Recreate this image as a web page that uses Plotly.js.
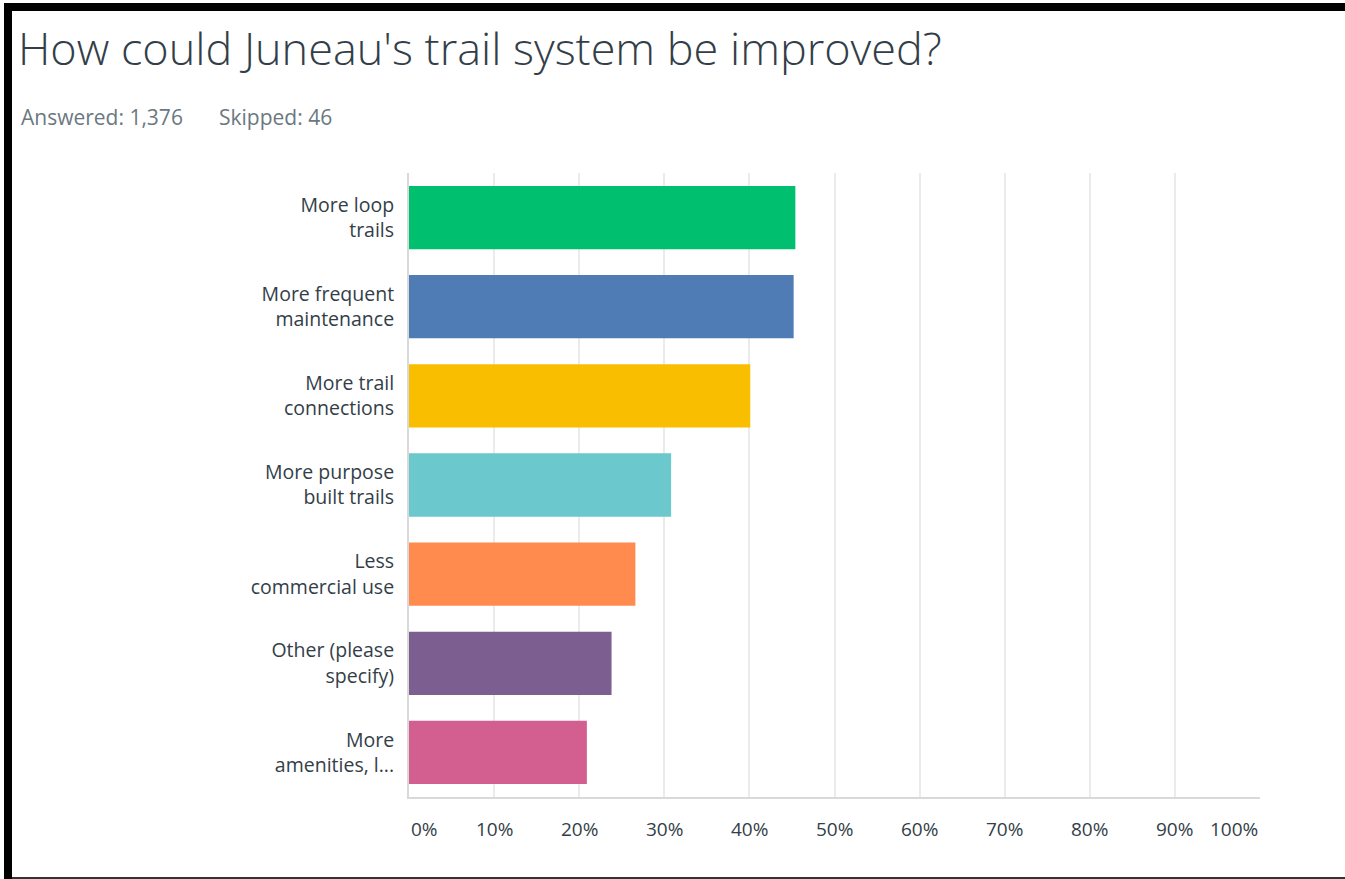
<!DOCTYPE html>
<html>
<head>
<meta charset="utf-8">
<script src="https://cdn.plot.ly/plotly-3.0.1.min.js"></script>
<style>
html, body { margin: 0; padding: 0; background: #ffffff; width: 1345px; height: 879px; overflow: hidden; }
#chart { position: absolute; left: 0; top: 0; width: 1345px; height: 879px; }
.bd { position: absolute; background: #000; pointer-events: none; }
</style>
</head>
<body>
<div id="chart"></div>
<div class="bd" style="left:4px; top:3px; width:1341px; height:8px;"></div>
<div class="bd" style="left:4px; top:3px; width:8px; height:876px;"></div>
<div class="bd" style="left:12px; top:877px; width:1333px; height:2px; background:#333;"></div>
<script>
const categories = [
  "More loop<br>trails",
  "More frequent<br>maintenance",
  "More trail<br>connections",
  "More purpose<br>built trails",
  "Less<br>commercial use",
  "Other (please<br>specify)",
  "More<br>amenities, l..."
];
const values = [45.4, 45.2, 40.1, 30.8, 26.6, 23.8, 20.9];
const barColors = ["#00BF6F", "#507CB6", "#F9BE00", "#6BC8CD", "#FF8B4F", "#7D5E90", "#D25F90"];
const tickValues = [0, 10, 20, 30, 40, 50, 60, 70, 80, 90, 100];
const tickLabels = ["0%", "10%", "20%", "30%", "40%", "50%", "60%", "70%", "80%", "90%", "100%"];
const titleText = "How could Juneau's trail system be improved?";
const answeredText = "Answered: 1,376";
const skippedText = "Skipped: 46";

const W = 1345, H = 879;
const m = { l: 409, r: 85, t: 173, b: 82 };
const pw = W - m.l - m.r, ph = H - m.t - m.b;
const px = x => (x - m.l) / pw;
const py = y => (H - m.b - y) / ph;

const textColor = "#333e48";
const font = "Open Sans, sans-serif";

const tickAnn = tickValues.map((v, i) => ({
  x: v, xref: "x", y: py(829), yref: "paper",
  text: tickLabels[i], showarrow: false,
  xanchor: i === 0 ? "left" : (i === tickValues.length - 1 ? "right" : "center"),
  yanchor: "middle",
  font: { family: font, size: 19, color: textColor }
}));

const data = [{
  type: "bar",
  orientation: "h",
  y: categories,
  x: values,
  marker: { color: barColors, line: { width: 0 } },
  hoverinfo: "x+y"
}];

const layout = {
  width: W, height: H,
  margin: m,
  paper_bgcolor: "#ffffff",
  plot_bgcolor: "#ffffff",
  showlegend: false,
  bargap: 0.29,
  title: {
    text: titleText,
    xref: "container", yref: "container",
    x: 18 / W, xanchor: "left",
    y: 1 - 49 / H, yanchor: "middle",
    font: { family: font, size: 45, weight: 300, color: textColor }
  },
  xaxis: {
    range: [0, 100],
    tickvals: tickValues,
    showticklabels: false,
    showgrid: true,
    gridcolor: "#ebebeb",
    gridwidth: 2,
    zeroline: false,
    showline: true,
    linecolor: "#d9d9d9",
    linewidth: 2,
    fixedrange: true
  },
  yaxis: {
    autorange: "reversed",
    showgrid: false,
    zeroline: false,
    showline: true,
    linecolor: "#d9d9d9",
    linewidth: 2,
    ticks: "",
    ticklabelstandoff: 9,
    tickfont: { family: font, size: 19.5, color: textColor },
    fixedrange: true
  },
  annotations: [
    { x: px(19), xref: "paper", y: py(117), yref: "paper", text: answeredText, showarrow: false,
      xanchor: "left", yanchor: "middle", font: { family: font, size: 21, color: "#6b787f" } },
    { x: px(217), xref: "paper", y: py(117), yref: "paper", text: skippedText, showarrow: false,
      xanchor: "left", yanchor: "middle", font: { family: font, size: 21, color: "#6b787f" } }
  ].concat(tickAnn)
};

Plotly.newPlot("chart", data, layout, { displayModeBar: false, staticPlot: false });
</script>
</body>
</html>
